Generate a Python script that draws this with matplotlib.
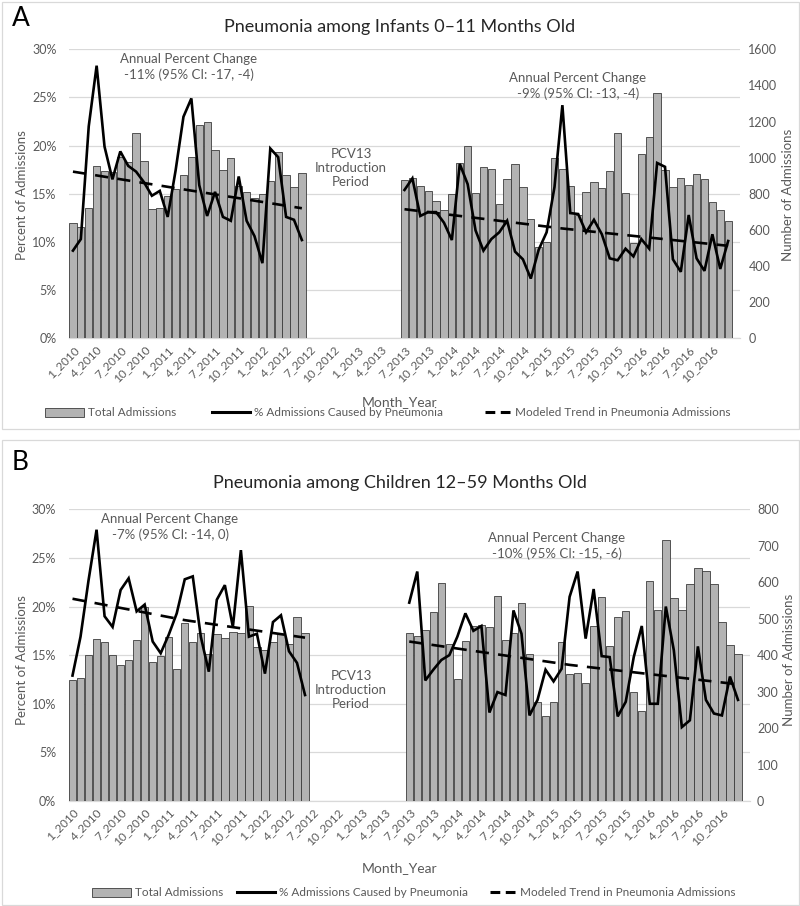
import matplotlib
matplotlib.use('Agg')
import matplotlib.pyplot as plt
from matplotlib.patches import Patch, Rectangle
from matplotlib.lines import Line2D
import numpy as np

plt.rcParams['font.family'] = ['Lato', 'DejaVu Sans']

# ---------------- data ----------------
tick_labels = ["1_2010", "4_2010", "7_2010", "10_2010", "1_2011", "4_2011", "7_2011",
               "10_2011", "1_2012", "4_2012", "7_2012", "10_2012", "1_2013", "4_2013",
               "7_2013", "10_2013", "1_2014", "4_2014", "7_2014", "10_2014", "1_2015",
               "4_2015", "7_2015", "10_2015", "1_2016", "4_2016", "7_2016", "10_2016"]
n_months = 84          # Jan 2010 .. Dec 2016
pre_start = 0          # Jan 2010 (index of first pre-PCV13 month)
post_start = 42        # Jul 2013 (index of first post-PCV13 month)

# Panel A: infants 0-11 months
A_adm_pre = [637, 614, 721, 956, 928, 923, 1006, 978, 1138, 983, 714, 721, 788, 825, 902,
             1002, 1181, 1199, 1042, 932, 996, 843, 808, 779, 799, 869, 1030, 902, 839, 913]
A_pct_pre = [9.1, 10.3, 22.0, 28.3, 19.9, 16.5, 19.4, 17.9, 17.3, 16.2, 14.8, 15.3, 12.6, 17.4, 23.0,
             24.9, 15.9, 12.7, 15.2, 12.6, 12.2, 16.8, 12.2, 10.6, 7.8, 19.7, 18.8, 12.6, 12.3, 10.2]
A_trend_pre_idx = [0, 16, 29]
A_trend_pre = [17.3, 15.2, 13.5]
A_adm_post = [876, 886, 843, 815, 760, 710, 797, 969, 1066, 803, 946, 935, 743, 882, 965, 839,
              660, 507, 535, 996, 939, 843, 680, 812, 865, 832, 926, 1138, 803, 526, 1018, 1113,
              1356, 932, 839, 886, 847, 911, 882, 755, 710, 649]
A_pct_post = [15.4, 16.6, 12.7, 13.1, 13.1, 12.0, 10.2, 18.1, 16.0, 11.2, 9.1, 10.3, 11.0, 12.2,
              9.0, 8.2, 6.2, 9.2, 11.0, 15.7, 24.2, 13.0, 12.9, 11.0, 12.3, 10.8, 8.3, 8.1, 9.3,
              8.5, 10.3, 9.3, 18.2, 17.8, 8.2, 6.9, 12.8, 8.3, 7.0, 10.8, 7.2, 10.1]
A_trend_post_idx = [0, 20, 41]
A_trend_post = [13.4, 11.4, 9.6]

# Panel B: children 12-59 months
B_adm_pre = [332, 336, 400, 444, 435, 400, 373, 386, 442, 533, 382, 399, 451, 363, 489,
             435, 462, 402, 457, 448, 464, 460, 535, 423, 414, 437, 457, 430, 504, 462]
B_pct_pre = [12.9, 16.9, 22.7, 27.9, 19.0, 17.9, 21.7, 22.9, 19.5, 20.2, 16.4, 15.2, 17.1, 19.3, 22.8,
             23.1, 16.9, 13.3, 20.7, 22.2, 17.9, 25.8, 16.9, 17.2, 13.1, 18.4, 19.1, 15.4, 14.2, 10.9]
B_trend_pre_idx = [0, 14, 29]
B_trend_pre = [20.8, 18.6, 16.8]
B_adm_post = [462, 453, 469, 517, 597, 431, 334, 439, 480, 483, 476, 562, 442, 462, 542, 402,
              272, 233, 272, 437, 348, 350, 323, 480, 559, 425, 504, 522, 300, 248, 604, 524,
              716, 556, 524, 594, 638, 631, 594, 491, 428, 403]
B_pct_post = [20.4, 23.6, 12.4, 13.5, 14.5, 15.0, 16.9, 19.3, 17.5, 18.0, 9.1, 11.2, 10.9, 19.6,
              17.2, 8.8, 10.4, 13.5, 12.3, 13.6, 21.0, 23.6, 16.7, 21.8, 14.9, 14.8, 8.7, 10.2,
              14.8, 18.0, 10.0, 10.0, 20.0, 15.5, 7.6, 8.3, 15.9, 10.4, 9.0, 8.8, 12.8, 10.4]
B_trend_post_idx = [0, 20, 41]
B_trend_post = [16.4, 14.0, 12.0]

pct_ticks = [0, 5, 10, 15, 20, 25, 30]
A_count_ticks = [0, 200, 400, 600, 800, 1000, 1200, 1400, 1600]
B_count_ticks = [0, 100, 200, 300, 400, 500, 600, 700, 800]

# ---------------- styling ----------------
W, H = 800, 906
fig = plt.figure(figsize=(8, 9.06), dpi=100)
fig.patch.set_facecolor('white')


def fx(x):
    return x / W


def fy(y):
    return 1 - y / H


TXT = '#595959'
GRID = '#d9d9d9'
BAR_FC = '#b3b3b3'
BAR_EC = '#3c3c3c'


def panel(letter, title, ax_px, count_ticks, adm_pre, pct_pre, tr_pre_idx, tr_pre,
          adm_post, pct_post, tr_post_idx, tr_post, apc_pre, apc_pre_xy, apc_post, apc_post_xy,
          pcv_xy, letter_xy, title_y, ylab_y, ylab_rx, right_pad, xlab_y, legend_px, box):
    x0, y0, x1, y1 = ax_px
    rect = [fx(x0), fy(y1), (x1 - x0) / W, (y1 - y0) / H]
    axg = fig.add_axes(rect)
    axb = axg.twinx()
    axl = axg.twinx()

    xs_pre = np.arange(len(adm_pre)) + pre_start
    xs_post = np.arange(len(adm_post)) + post_start

    # grid / percent axis
    axg.set_xlim(-0.5, n_months + 0.5)
    axg.set_ylim(0, 30)
    axg.set_yticks(pct_ticks)
    axg.set_yticklabels([f"{t}%" for t in pct_ticks])
    axg.yaxis.grid(True, color=GRID, lw=0.9)
    axg.set_axisbelow(True)
    for s in ['top', 'right', 'left']:
        axg.spines[s].set_visible(False)
    axg.spines['bottom'].set_color(GRID)
    axg.spines['bottom'].set_linewidth(0.9)
    axg.tick_params(axis='y', length=0, pad=9, labelsize=9, labelcolor=TXT)
    axg.set_xticks(np.arange(0, n_months, 3))
    axg.set_xticklabels(tick_labels, rotation=45, ha='right', rotation_mode='anchor')
    axg.tick_params(axis='x', length=0, pad=4, labelsize=8.5, labelcolor=TXT)

    # bars (counts)
    axb.bar(xs_pre, adm_pre, width=0.92, color=BAR_FC, edgecolor=BAR_EC, linewidth=0.6)
    axb.bar(xs_post, adm_post, width=0.92, color=BAR_FC, edgecolor=BAR_EC, linewidth=0.6)
    axb.set_ylim(count_ticks[0], count_ticks[-1])
    axb.set_yticks(count_ticks)
    axb.tick_params(axis='y', length=0, pad=right_pad, labelsize=9, labelcolor=TXT)
    for s in axb.spines.values():
        s.set_visible(False)

    # lines (percent)
    axl.set_ylim(0, 30)
    axl.yaxis.set_visible(False)
    for s in axl.spines.values():
        s.set_visible(False)
    axl.plot(xs_pre, pct_pre, color='black', lw=1.9, solid_joinstyle='miter')
    axl.plot(xs_post, pct_post, color='black', lw=1.9, solid_joinstyle='miter')
    axl.plot(np.array(tr_pre_idx) + pre_start, tr_pre, color='black', lw=1.9, dashes=(5, 3.5))
    axl.plot(np.array(tr_post_idx) + post_start, tr_post, color='black', lw=1.9, dashes=(5, 3.5))
    axl.set_xlim(-0.5, n_months + 0.5)

    # texts
    fig.text(fx(letter_xy[0]), fy(letter_xy[1]), letter, fontsize=19, ha='center', va='center',
             color='black')
    fig.text(fx(400), fy(title_y), title, fontsize=13, ha='center', va='center', color='#262626')
    fig.text(fx(apc_pre_xy[0]), fy(apc_pre_xy[1]), apc_pre, fontsize=9.5, ha='center',
             va='center', color=TXT, linespacing=1.25)
    fig.text(fx(apc_post_xy[0]), fy(apc_post_xy[1]), apc_post, fontsize=9.5, ha='center',
             va='center', color=TXT, linespacing=1.25)
    fig.text(fx(pcv_xy[0]), fy(pcv_xy[1]), "PCV13\nIntroduction\nPeriod", fontsize=9.5,
             ha='center', va='center', color=TXT, linespacing=1.25)
    fig.text(fx(22), fy(ylab_y), "Percent of Admissions", rotation=90, fontsize=9.5,
             ha='center', va='center', color=TXT)
    fig.text(fx(ylab_rx), fy(ylab_y), "Number of Admissions", rotation=90, fontsize=9.5,
             ha='center', va='center', color=TXT)
    fig.text(fx(400), fy(xlab_y), "Month_Year", fontsize=10, ha='center', va='center', color=TXT)

    # legend
    lx1, lx2, lx3, ly = legend_px
    h1 = Patch(facecolor=BAR_FC, edgecolor=BAR_EC, linewidth=0.6)
    h2 = Line2D([0], [0], color='black', lw=2.2)
    h3 = Line2D([0], [0], color='black', lw=2.2, dashes=(3.2, 1.8))
    for h, lab, lx, hl in [(h1, "Total Admissions", lx1, 3.3),
                           (h2, "% Admissions Caused by Pneumonia", lx2, 3.2),
                           (h3, "Modeled Trend in Pneumonia Admissions", lx3, 2.15)]:
        fig.legend(handles=[h], labels=[lab], loc='center left', bbox_to_anchor=(fx(lx), fy(ly)),
                   frameon=False, fontsize=8.5, labelcolor=TXT, handlelength=hl,
                   handletextpad=0.35, borderpad=0, borderaxespad=0)

    # panel border
    bx0, by0, bx1, by1 = box
    fig.add_artist(Rectangle((fx(bx0), fy(by1)), (bx1 - bx0) / W, (by1 - by0) / H,
                             transform=fig.transFigure, fill=False, edgecolor=GRID, lw=0.9))


panel("A", "Pneumonia among Infants 0\u201311 Months Old", (69, 49.3, 740, 338.3),
      A_count_ticks, A_adm_pre, A_pct_pre, A_trend_pre_idx, A_trend_pre,
      A_adm_post, A_pct_post, A_trend_post_idx, A_trend_post,
      "Annual Percent Change\n-11% (95% CI: -17, -4)", (189, 67),
      "Annual Percent Change\n-9% (95% CI: -13, -4)", (578, 86),
      (351, 168), (21, 19), 27, 195, 788, 6, 402, (45, 212, 485, 413), (1.5, 1.5, 798.5, 429))

panel("B", "Pneumonia among Children 12\u201359 Months Old", (68.5, 509.3, 750, 801),
      B_count_ticks, B_adm_pre, B_pct_pre, B_trend_pre_idx, B_trend_pre,
      B_adm_post, B_pct_post, B_trend_post_idx, B_trend_post,
      "Annual Percent Change\n-7% (95% CI: -14, 0)", (170, 527),
      "Annual Percent Change\n-10% (95% CI: -15, -6)", (557, 546),
      (351, 690), (20, 463), 483, 660, 789, 5, 868, (92, 237, 490, 893), (1.5, 440, 798.5, 904.5))

fig.savefig('out.png', dpi=100, facecolor='white')
